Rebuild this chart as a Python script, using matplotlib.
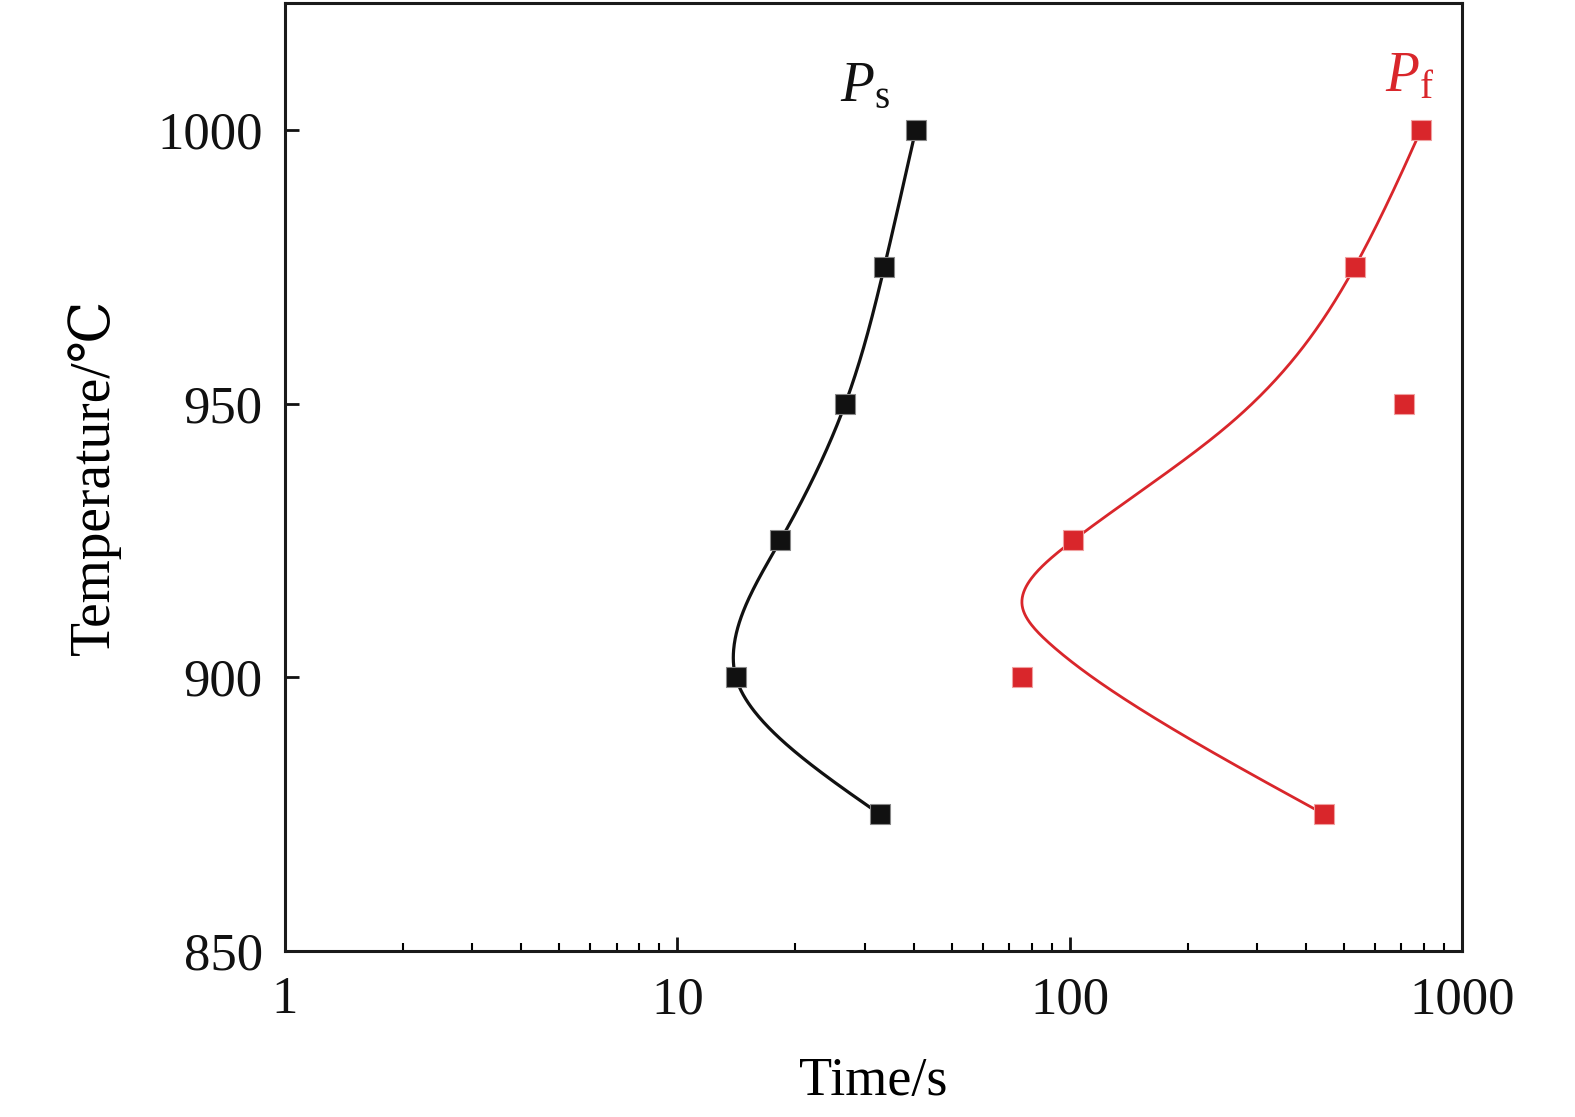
import numpy as np
import matplotlib
matplotlib.use("Agg")
import matplotlib.pyplot as plt

# ---------------- data ----------------
temps = [875, 900, 925, 950, 975, 1000]
ps_time = [32.8, 14.1, 18.3, 26.8, 33.7, 40.5]
pf_time = [445, 75.5, 102, 711, 533, 786]

# fitted-curve anchors (the Pf fit does not pass all points)
ps_fit_temp = [875, 900, 904.5, 925, 950, 975, 1000]
ps_fit_time = [32.8, 14.1, 13.9, 18.3, 26.8, 33.7, 40.5]
pf_fit_temp = [875, 893, 906, 913, 925, 946, 975, 1000]
pf_fit_time = [445, 161, 89.5, 75.7, 102, 253, 533, 786]

xticks = [1, 10, 100, 1000]
xticklabels = ["1", "10", "100", "1000"]
yticks = [850, 900, 950, 1000]
yticklabels = ["850", "900", "950", "1000"]


def natural_spline(xk, yk, xs):
    xk = np.asarray(xk, float)
    yk = np.asarray(yk, float)
    n = len(xk)
    h = np.diff(xk)
    A = np.zeros((n, n))
    b = np.zeros(n)
    A[0, 0] = 1
    A[-1, -1] = 1
    for i in range(1, n - 1):
        A[i, i - 1] = h[i - 1]
        A[i, i] = 2 * (h[i - 1] + h[i])
        A[i, i + 1] = h[i]
        b[i] = 3 * ((yk[i + 1] - yk[i]) / h[i] - (yk[i] - yk[i - 1]) / h[i - 1])
    c = np.linalg.solve(A, b)
    out = np.empty_like(xs)
    for j, x in enumerate(xs):
        i = min(max(np.searchsorted(xk, x) - 1, 0), n - 2)
        dx = x - xk[i]
        bi = (yk[i + 1] - yk[i]) / h[i] - h[i] * (2 * c[i] + c[i + 1]) / 3
        di = (c[i + 1] - c[i]) / (3 * h[i])
        out[j] = yk[i] + bi * dx + c[i] * dx ** 2 + di * dx ** 3
    return out


plt.rcParams['font.family'] = ['Liberation Serif', 'DejaVu Serif', 'DejaVu Sans']
plt.rcParams['mathtext.fontset'] = 'custom'
plt.rcParams['mathtext.rm'] = 'Liberation Serif'
plt.rcParams['mathtext.it'] = 'Liberation Serif:italic'

W, H = 1575, 1117
fig = plt.figure(figsize=(W / 100, H / 100), dpi=100)
L, R, B, T = 285, 1462, 951, 3
ax = fig.add_axes([L / W, 1 - B / H, (R - L) / W, (B - T) / H])

black = '#111111'
red = '#d9262b'

# fitted curves
Ts = np.linspace(min(ps_fit_temp), max(ps_fit_temp), 500)
ax.plot(10 ** natural_spline(ps_fit_temp, np.log10(ps_fit_time), Ts), Ts,
        color=black, lw=2.3, zorder=2)
Tf = np.linspace(min(pf_fit_temp), max(pf_fit_temp), 500)
ax.plot(10 ** natural_spline(pf_fit_temp, np.log10(pf_fit_time), Tf), Tf,
        color=red, lw=2.0, zorder=2)

# markers
ax.plot(ps_time, temps, 's', color=black, ms=14.5, mec='#888888', mew=0.8,
        ls='none', zorder=3)
ax.plot(pf_time, temps, 's', color=red, ms=14.5, mec='#f0a0a0', mew=0.8,
        ls='none', zorder=3)

ax.set_xscale('log')
ax.set_xlim(1, 1000)
ax.set_ylim(850, 1023.2)
ax.set_xticks(xticks)
ax.set_xticklabels(xticklabels)
ax.set_yticks(yticks)
ax.set_yticklabels(yticklabels)
ax.tick_params(which='major', direction='in', length=10, width=2, labelsize=38,
               colors=black)
ax.tick_params(axis='x', which='major', pad=18)
ax.tick_params(axis='y', which='major', pad=16)
ax.tick_params(which='minor', direction='in', length=6, width=1.5)
ax.tick_params(axis='y', which='minor', left=False)
for s in ax.spines.values():
    s.set_linewidth(2.2)
    s.set_color('#1a1a1a')

ax.set_xlabel('Time/s', fontsize=39)
ax.xaxis.set_label_coords(0.5, -0.111)
ax.set_ylabel('Temperature/℃', fontsize=40)
ax.yaxis.set_label_coords(-0.139, 0.5)

ax.text(26.0, 1005.3, r'$P_{\rm s}$', fontsize=40, color=black, ha='left', va='baseline')
ax.text(635, 1007.0, r'$P_{\rm f}$', fontsize=40, color=red, ha='left', va='baseline')

fig.savefig('out.png', dpi=100)
